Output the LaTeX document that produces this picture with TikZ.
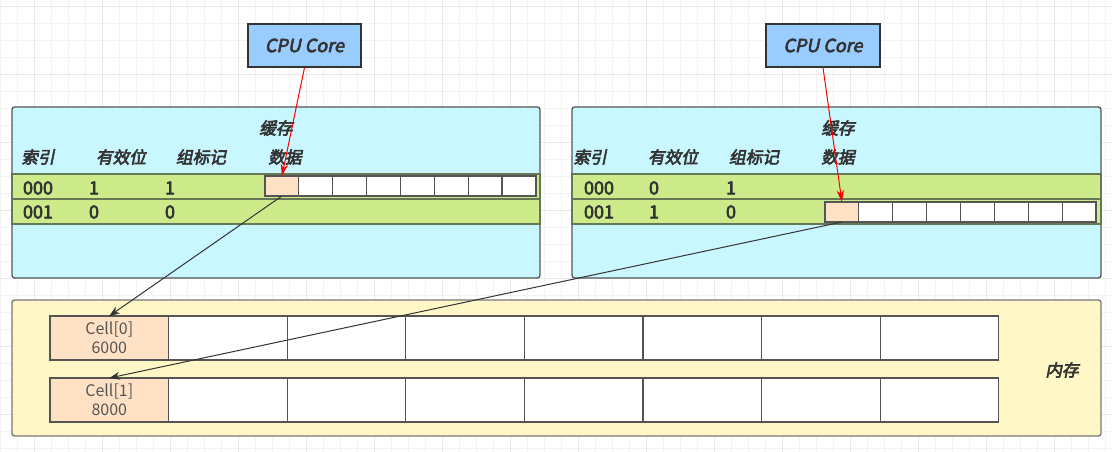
\documentclass[tikz,border=0pt]{standalone}
\usepackage{fontspec}
\setmainfont{Noto Sans CJK SC}
\newfontfamily\cjkb{Noto Sans CJK SC}[FakeBold=3.5]
\newfontfamily\cjkbi{Noto Sans CJK SC}[FakeBold=3.5,FakeSlant=0.2]
\usetikzlibrary{arrows.meta}
\definecolor{cpublue}{HTML}{99CCFF}
\definecolor{cachecyan}{HTML}{C8F7FF}
\definecolor{rowgreen}{HTML}{CDEB8B}
\definecolor{rowline}{HTML}{667755}
\definecolor{peach}{HTML}{FFE2C6}
\definecolor{memyellow}{HTML}{FFF8C6}
\definecolor{edgegray}{HTML}{555555}
\definecolor{txtgray}{HTML}{333333}
\definecolor{gridminor}{HTML}{F3F3F3}
\definecolor{gridmajor}{HTML}{E8E8E8}
\tikzset{
	cpubox/.style={draw=txtgray, line width=1.3pt, fill=cpublue, minimum width=85pt, minimum height=32pt, font=\cjkbi\fontsize{13.5}{15}\selectfont, text=txtgray},
	cachebox/.style={draw=edgegray, line width=1pt, fill=cachecyan, rounded corners=2pt},
	membox/.style={draw=edgegray!80, line width=1pt, fill=memyellow, rounded corners=2pt},
	rowband/.style={draw=rowline, line width=1pt, fill=rowgreen},
	datacell/.style={draw=edgegray, line width=0.9pt, fill=white, minimum width=25.4pt, minimum height=15pt, inner sep=0pt, outer sep=0pt},
	memcell/.style={draw=edgegray, line width=0.9pt, fill=white, minimum width=88.95pt, minimum height=33pt, inner sep=0pt, outer sep=0pt, align=center, font=\fontsize{12}{14}\selectfont, text=edgegray},
	headtxt/.style={font=\cjkbi\fontsize{12.5}{15}\selectfont, text=txtgray, inner sep=0pt},
	numtxt/.style={font=\cjkb\fontsize{13.5}{15}\selectfont, text=txtgray, inner sep=0pt},
	redarrow/.style={draw=red, line width=0.75pt, -{Stealth[length=9pt,width=5.5pt]}},
	blkarrow/.style={draw=txtgray, line width=0.75pt, -{Stealth[length=8pt,width=6pt]}}
}
\begin{document}
\begin{tikzpicture}[x=0.75pt,y=-0.75pt]
			%%%%% START %%%%%
			\useasboundingbox (0,0) rectangle (1112,452);
			
			% grid
			\foreach \i in {0,...,65} \draw[gridminor, line width=0.5pt] ({0.3+17*\i},0) -- ++(0,452);
			\foreach \i in {0,...,26} \draw[gridminor, line width=0.5pt] (0,{6+17*\i}) -- ++(1112,0);
			\foreach \i in {0,...,16} \draw[gridmajor, line width=0.6pt] ({34.3+68*\i},0) -- ++(0,452);
			\foreach \i in {0,...,6} \draw[gridmajor, line width=0.6pt] (0,{6+68*\i}) -- ++(1112,0);
			
			% left cache
			\draw[cachebox] (12,107) rectangle (540,278);
			\draw[rowband] (12,174) rectangle (540,199);
			\draw[rowband] (12,199) rectangle (540,224);
			\node[headtxt] (cacheL) at (276,128) {缓存};
			\node[headtxt] (idxL) at (38,157) {索引};
			\node[headtxt] (validL) at (121,157) {有效位};
			\node[headtxt] (tagL) at (201,157) {组标记};
			\node[headtxt] (dataL) at (285,157) {数据};
			\node[numtxt] (rowAL) at (38,188) {000};
			\node[numtxt] (vAL) at (94,188) {1};
			\node[numtxt] (tAL) at (170,188) {1};
			\node[numtxt] (rowBL) at (38,212) {001};
			\node[numtxt] (vBL) at (94,212) {0};
			\node[numtxt] (tBL) at (170,212) {0};
			\node[datacell, fill=peach] (lc0) at (281.9,186) {};
			\foreach \i in {1,...,7} \node[datacell] (lc\i) at ({281.9+33.875*\i},186) {};
			
			% right cache
			\draw[cachebox] (572,107) rectangle (1101,278);
			\draw[rowband] (572,174) rectangle (1101,199);
			\draw[rowband] (572,199) rectangle (1101,224);
			\node[headtxt] (cacheR) at (838,128) {缓存};
			\node[headtxt] (idxR) at (590,157) {索引};
			\node[headtxt] (validR) at (673,157) {有效位};
			\node[headtxt] (tagR) at (754,157) {组标记};
			\node[headtxt] (dataR) at (838,157) {数据};
			\node[numtxt] (rowAR) at (599,188) {000};
			\node[numtxt] (vAR) at (654,188) {0};
			\node[numtxt] (tAR) at (731,188) {1};
			\node[numtxt] (rowBR) at (599,212) {001};
			\node[numtxt] (vBR) at (654,212) {1};
			\node[numtxt] (tBR) at (731,212) {0};
			\node[datacell, fill=peach] (rc0) at (841.9,212) {};
			\foreach \i in {1,...,7} \node[datacell] (rc\i) at ({841.9+33.875*\i},212) {};
			
			% memory
			\draw[membox] (12,300) rectangle (1101,436);
			\node[memcell, fill=peach] (ma0) at (109.3,338) {Cell[0]\\6000};
			\node[memcell, fill=peach] (mb0) at (109.3,400) {Cell[1]\\8000};
			\foreach \i in {1,...,7} {
				\node[memcell] (ma\i) at ({109.3+118.6*\i},338) {};
				\node[memcell] (mb\i) at ({109.3+118.6*\i},400) {};
			}
			\node[headtxt] (memlbl) at (1062,370) {内存};
			
			% cores
			\node[cpubox] (cpuL) at (304.5,45.5) {CPU Core};
			\node[cpubox] (cpuR) at (823,45.5) {CPU Core};
			
			% arrows
			\draw[redarrow] (cpuL.south) -- (lc0.north);
			\draw[redarrow] (cpuR.south) -- (rc0.north);
			\draw[blkarrow] (lc0.south) -- (ma0.north);
			\draw[blkarrow] (rc0.south) -- (mb0.north);
			%%%%% END %%%%%
\end{tikzpicture}
\end{document}
